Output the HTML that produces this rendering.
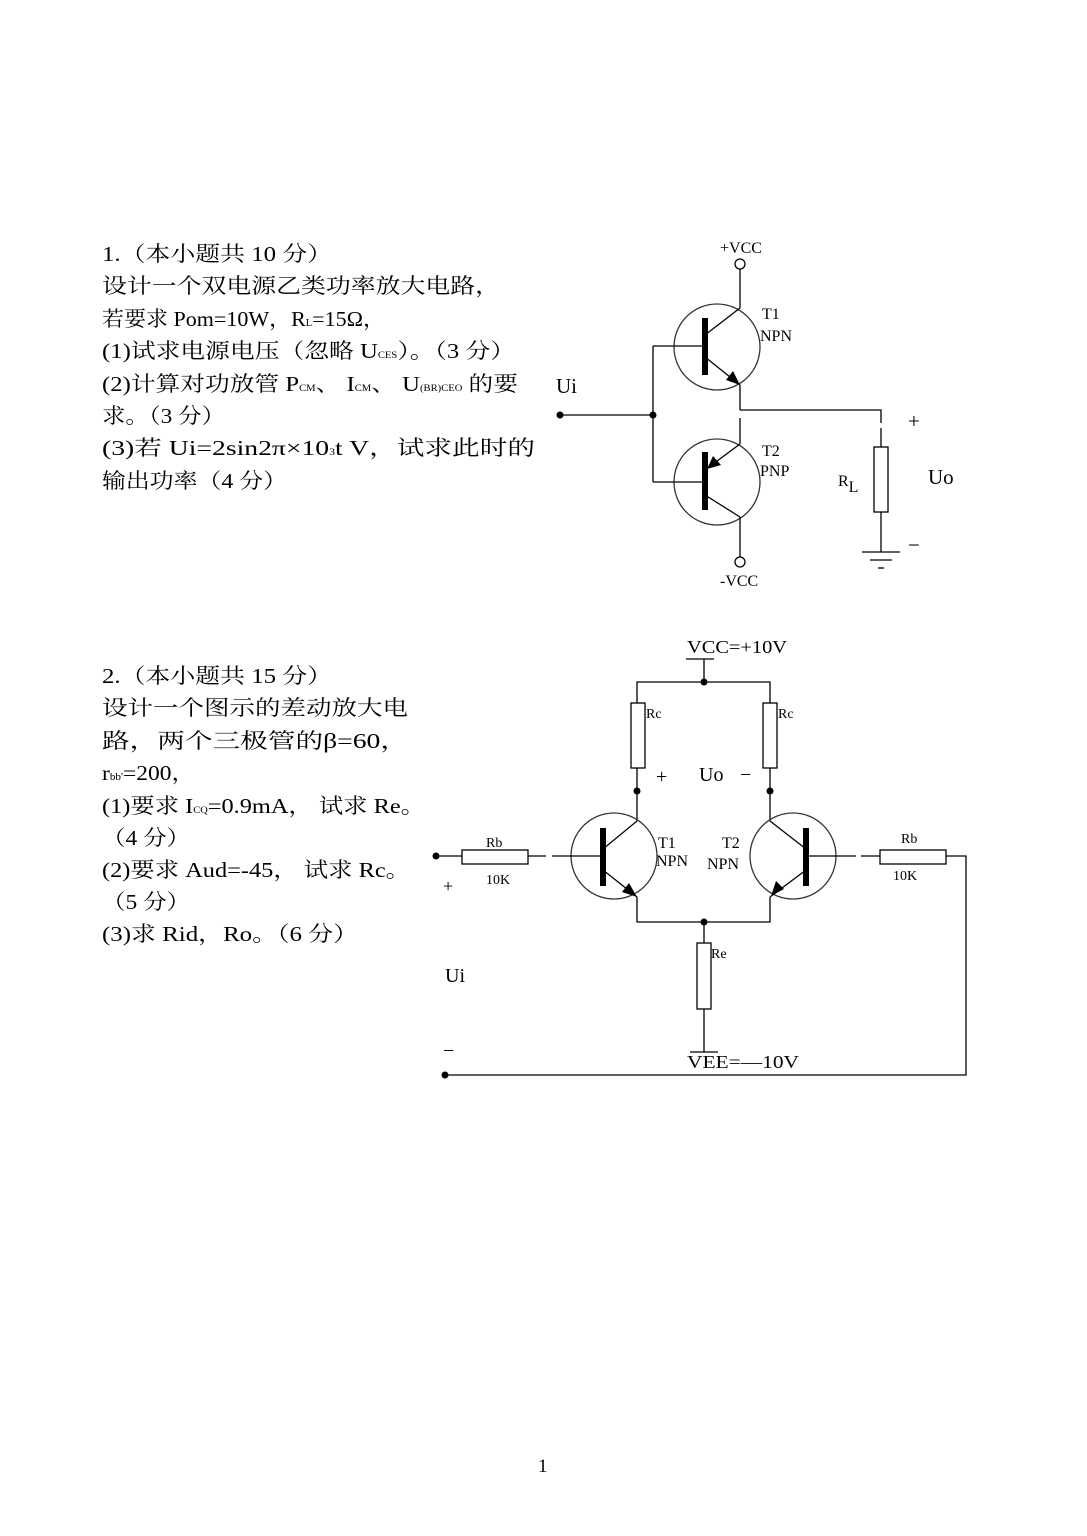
<!DOCTYPE html>
<html><head><meta charset="utf-8"><style>
html,body{margin:0;padding:0;background:#fff;}
svg{display:block;}
.t{font-family:"Liberation Serif","Noto Serif CJK SC",serif;font-size:21px;fill:#000;}
.s{font-family:"Liberation Serif",serif;font-size:16px;fill:#000;}
.m{font-family:"Liberation Serif",serif;font-size:14px;fill:#000;}
</style></head><body>
<svg width="1087" height="1536" viewBox="0 0 1087 1536" xmlns="http://www.w3.org/2000/svg">
<rect width="1087" height="1536" fill="#fff"/>
<!-- Question 1 text -->
<text class="t" x="102" y="261" textLength="230" lengthAdjust="spacingAndGlyphs">1.（本小题共 10 分）</text>
<text class="t" x="102" y="293" textLength="398" lengthAdjust="spacingAndGlyphs">设计一个双电源乙类功率放大电路，</text>
<text class="t" x="102" y="326" textLength="283" lengthAdjust="spacingAndGlyphs">若要求 Pom=10W，R<tspan font-size="10">L</tspan>=15Ω，</text>
<text class="t" x="102" y="358" textLength="413" lengthAdjust="spacingAndGlyphs">(1)试求电源电压（忽略 U<tspan font-size="9">CES</tspan>）。（3 分）</text>
<text class="t" x="102" y="391" textLength="416" lengthAdjust="spacingAndGlyphs">(2)计算对功放管 P<tspan font-size="9">CM</tspan>、 I<tspan font-size="9">CM</tspan>、 U<tspan font-size="9">(BR)CEO</tspan> 的要</text>
<text class="t" x="102" y="423" textLength="123" lengthAdjust="spacingAndGlyphs">求。（3 分）</text>
<text class="t" x="102" y="455" textLength="433" lengthAdjust="spacingAndGlyphs">(3)若 Ui=2sin2π×10<tspan font-size="9">3</tspan>t V，试求此时的</text>
<text class="t" x="102" y="488" textLength="185" lengthAdjust="spacingAndGlyphs">输出功率（4 分）</text>

<!-- Question 2 text -->
<text class="t" x="102" y="683" textLength="230" lengthAdjust="spacingAndGlyphs">2.（本小题共 15 分）</text>
<text class="t" x="102" y="715" textLength="306" lengthAdjust="spacingAndGlyphs">设计一个图示的差动放大电</text>
<text class="t" x="102" y="748" textLength="306" lengthAdjust="spacingAndGlyphs">路，两个三极管的β=60，</text>
<text class="t" x="102" y="780" textLength="93" lengthAdjust="spacingAndGlyphs">r<tspan font-size="10">bb'</tspan>=200，</text>
<text class="t" x="102" y="813" textLength="323" lengthAdjust="spacingAndGlyphs">(1)要求 I<tspan font-size="9">CQ</tspan>=0.9mA，  试求 Re。</text>
<text class="t" x="102" y="845" textLength="88" lengthAdjust="spacingAndGlyphs">（4 分）</text>
<text class="t" x="102" y="877" textLength="308" lengthAdjust="spacingAndGlyphs">(2)要求 Aud=-45，  试求 Rc。</text>
<text class="t" x="102" y="909" textLength="88" lengthAdjust="spacingAndGlyphs">（5 分）</text>
<text class="t" x="102" y="941" textLength="256" lengthAdjust="spacingAndGlyphs">(3)求 Rid，Ro。（6 分）</text>

<!-- Circuit 1 -->
<g stroke="#000" stroke-width="1.3" fill="none">
<circle cx="740" cy="264" r="5"/>
<line x1="740" y1="269" x2="740" y2="308"/>
<circle cx="717" cy="347" r="43" stroke="#333"/>
<line x1="705" y1="335" x2="740" y2="308"/>
<line x1="705" y1="357" x2="740" y2="385"/>
<line x1="653" y1="346" x2="705" y2="346"/>
<line x1="740" y1="385" x2="740" y2="410"/>
<polyline points="740,410 881,410 881,423"/>
<line x1="881" y1="428" x2="881" y2="447"/>
<rect x="874" y="447" width="14" height="65"/>
<line x1="881" y1="512" x2="881" y2="552"/>
<line x1="862" y1="552" x2="900" y2="552"/>
<line x1="870" y1="560" x2="892" y2="560"/>
<line x1="878" y1="568" x2="884" y2="568"/>
<line x1="560" y1="415" x2="653" y2="415"/>
<line x1="653" y1="346" x2="653" y2="482"/>
<circle cx="717" cy="482" r="43" stroke="#333"/>
<line x1="740" y1="418" x2="740" y2="444"/>
<line x1="705" y1="470" x2="740" y2="444"/>
<line x1="705" y1="495" x2="740" y2="517"/>
<line x1="653" y1="482" x2="705" y2="482"/>
<line x1="740" y1="517" x2="740" y2="557"/>
<circle cx="740" cy="562" r="5"/>
</g>
<rect x="702" y="318" width="6" height="57" fill="#000"/>
<rect x="702" y="452" width="6" height="58" fill="#000"/>
<polygon points="740,385 726,380 733,371" fill="#000"/>
<polygon points="707,469 713,456 721,465" fill="#000"/>
<circle cx="560" cy="415" r="3.5" fill="#000"/>
<circle cx="653" cy="415" r="3.5" fill="#000"/>
<text class="s" x="720" y="253">+VCC</text>
<text class="s" x="720" y="586">-VCC</text>
<text class="s" x="762" y="319">T1</text>
<text class="s" x="760" y="341">NPN</text>
<text class="s" x="762" y="456">T2</text>
<text class="s" x="760" y="476">PNP</text>
<text class="s" x="838" y="486">R<tspan dy="6">L</tspan></text>
<text class="t" x="908" y="428">+</text>
<text class="t" x="928" y="484">Uo</text>
<text class="t" x="908" y="552">−</text>
<text class="t" x="556" y="393">Ui</text>

<!-- Circuit 2 -->
<g stroke="#000" stroke-width="1.3" fill="none">
<line x1="686" y1="659" x2="714" y2="659"/>
<line x1="704" y1="659" x2="704" y2="682"/>
<polyline points="637,703 637,682 770,682 770,703"/>
<rect x="631" y="703" width="14" height="65"/>
<rect x="763" y="703" width="14" height="65"/>
<line x1="637" y1="768" x2="637" y2="821"/>
<line x1="770" y1="768" x2="770" y2="821"/>
<circle cx="614" cy="856" r="43" stroke="#333"/>
<line x1="603" y1="849" x2="637" y2="821"/>
<line x1="603" y1="870" x2="637" y2="897"/>
<polyline points="637,897 637,922 770,922 770,897"/>
<circle cx="793" cy="856" r="43" stroke="#333"/>
<line x1="806" y1="849" x2="770" y2="821"/>
<line x1="806" y1="870" x2="770" y2="897"/>
<line x1="436" y1="856" x2="462" y2="856"/>
<rect x="462" y="850" width="66" height="14"/>
<line x1="528" y1="856" x2="546" y2="856"/>
<line x1="552" y1="856" x2="603" y2="856"/>
<line x1="806" y1="856" x2="856" y2="856"/>
<line x1="861" y1="856" x2="880" y2="856"/>
<rect x="880" y="850" width="66" height="14"/>
<polyline points="946,856 966,856 966,1075 445,1075"/>
<line x1="704" y1="922" x2="704" y2="943"/>
<rect x="697" y="943" width="14" height="66"/>
<line x1="704" y1="1009" x2="704" y2="1052"/>
<line x1="690" y1="1052" x2="718" y2="1052"/>
</g>
<rect x="600" y="828" width="6" height="58" fill="#000"/>
<rect x="803" y="828" width="6" height="58" fill="#000"/>
<polygon points="637,897 622,892 629,883" fill="#000"/>
<polygon points="771,896 776,881 784,889" fill="#000"/>
<circle cx="704" cy="682" r="3.5" fill="#000"/>
<circle cx="637" cy="791" r="3.5" fill="#000"/>
<circle cx="770" cy="791" r="3.5" fill="#000"/>
<circle cx="704" cy="922" r="3.5" fill="#000"/>
<circle cx="436" cy="856" r="3.5" fill="#000"/>
<circle cx="445" cy="1075" r="3.5" fill="#000"/>
<text class="s" x="687" y="653" style="font-size:18px" textLength="100" lengthAdjust="spacingAndGlyphs">VCC=+10V</text>
<text class="s" x="687" y="1068" style="font-size:18px" textLength="112" lengthAdjust="spacingAndGlyphs">VEE=—10V</text>
<text class="m" x="646" y="718">Rc</text>
<text class="m" x="778" y="718">Rc</text>
<text class="m" x="711" y="958">Re</text>
<text class="m" x="486" y="847">Rb</text>
<text class="m" x="486" y="884">10K</text>
<text class="m" x="901" y="843">Rb</text>
<text class="m" x="893" y="880">10K</text>
<text class="s" x="658" y="848">T1</text>
<text class="s" x="656" y="866">NPN</text>
<text class="s" x="722" y="848">T2</text>
<text class="s" x="707" y="869">NPN</text>
<text class="s" x="656" y="783" style="font-size:20px">+</text>
<text class="s" x="699" y="781" style="font-size:20px">Uo</text>
<text class="s" x="740" y="781" style="font-size:20px">−</text>
<text class="s" x="443" y="892" style="font-size:18px">+</text>
<text class="s" x="445" y="982" style="font-size:20px">Ui</text>
<text class="s" x="443" y="1057" style="font-size:20px">−</text>

<text class="s" x="538" y="1472" style="font-size:19px">1</text>
</svg>
</body></html>
